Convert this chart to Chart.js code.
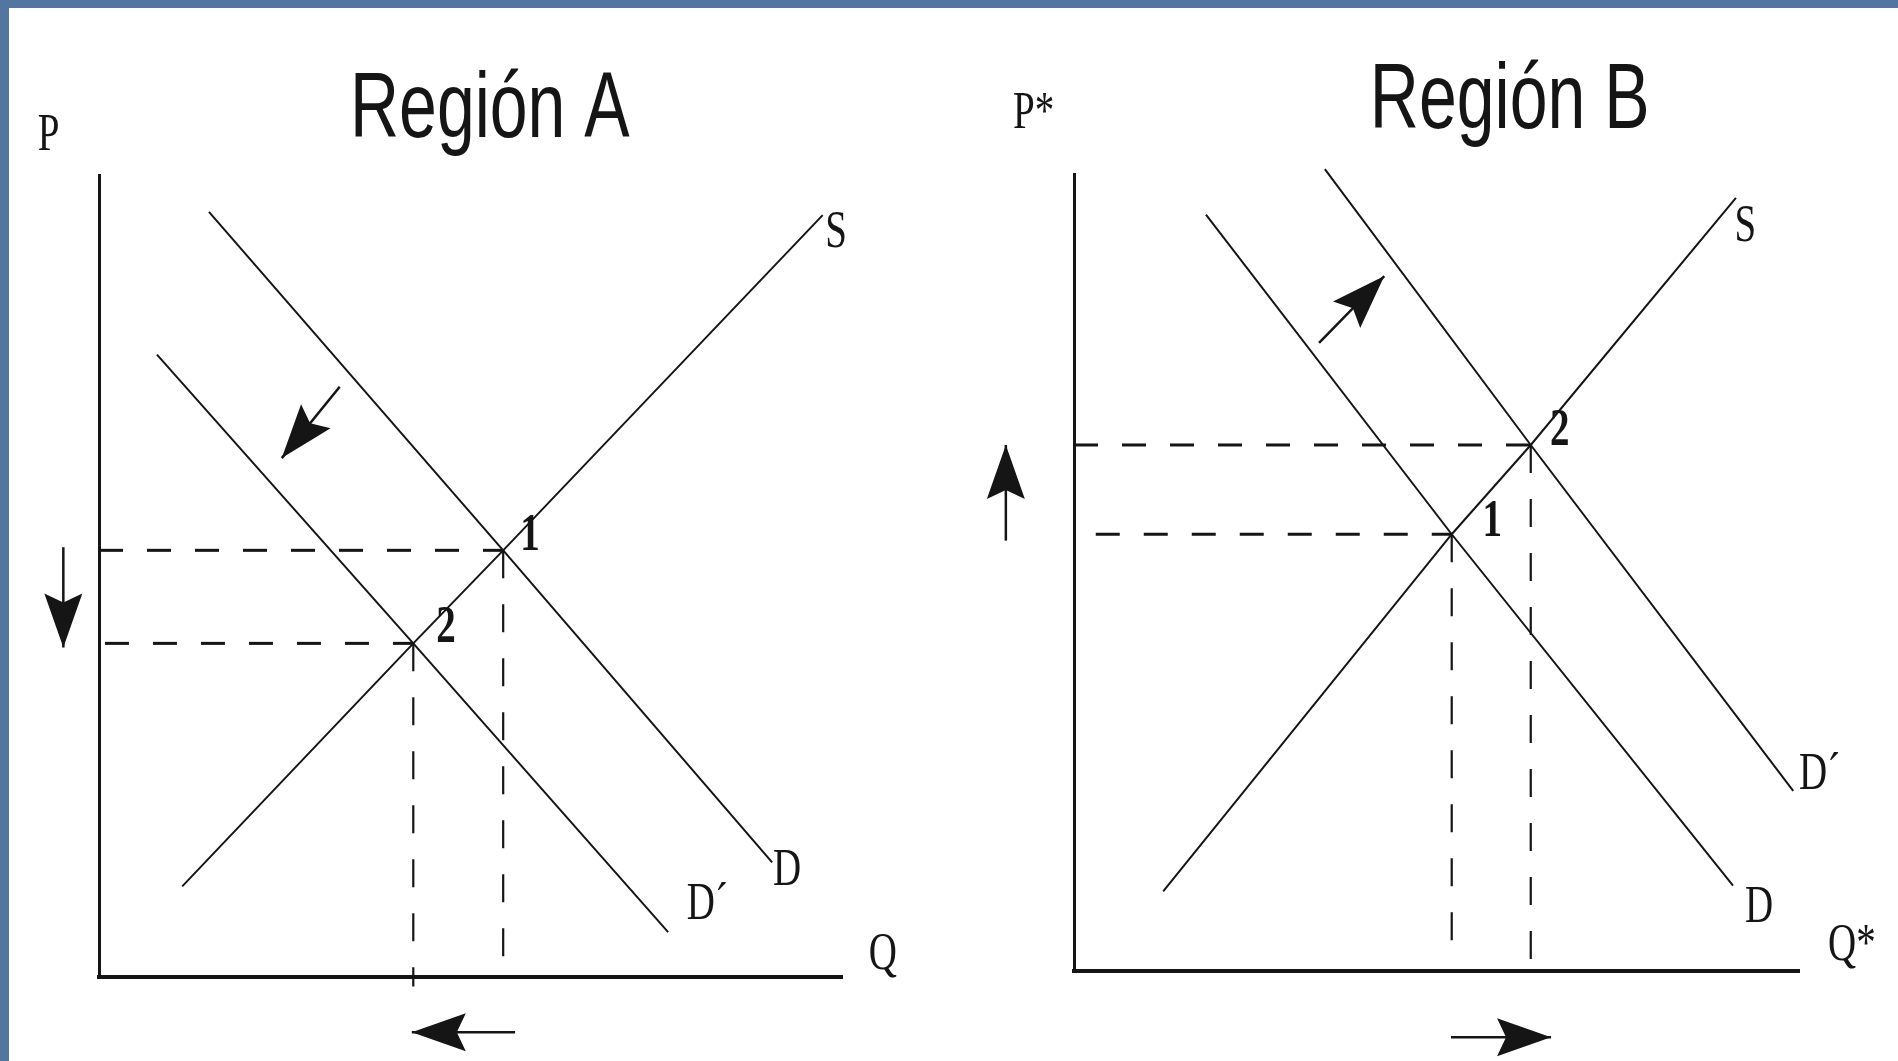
<!DOCTYPE html>
<html>
<head>
<meta charset="utf-8">
<script src="https://cdn.jsdelivr.net/npm/chart.js@4.4.1/dist/chart.umd.min.js"></script>
<style>
  html, body { margin: 0; padding: 0; width: 1898px; height: 1061px; overflow: hidden; background: #52769f; }
  #panel { position: absolute; left: 9px; top: 8px; right: 0; bottom: 0; background: #fff; }
  canvas { position: absolute; top: 0; }
  #chartA { left: 0; }
  #chartB { left: 949px; }
</style>
</head>
<body>
<div id="panel"></div>
<canvas id="chartA" width="949" height="1061"></canvas>
<canvas id="chartB" width="949" height="1061"></canvas>
<script>
// values are [Q, P] on a 0..10 grid for each panel

// Región A
const supplyA = [[1.12, 1.13], [4.23, 4.16], [5.44, 5.32], [9.74, 9.50]];
const demandA = [[1.48, 9.54], [5.44, 5.32], [9.06, 1.43]];
const demandNewA = [[0.78, 7.76], [4.23, 4.16], [7.66, 0.56]];
const guidesA = [
    [[0, 5.32], [5.44, 5.32]],
    [[0.08, 4.16], [4.23, 4.16]],
    [[4.23, 4.16], [4.23, -0.12]],
    [[5.44, 5.32], [5.44, 0.24]]
];
const arrowsA = [
    [[3.24, 7.36], [2.46, 6.47]],
    [[-0.48, 5.36], [-0.48, 4.11]],
    [[5.60, -0.69], [4.21, -0.69]]
];

// Región B
const supplyB = [[1.23, 1.00], [5.21, 5.48], [6.30, 6.60], [9.13, 9.70]];
const demandB = [[1.82, 9.49], [5.21, 5.48], [9.09, 1.07]];
const demandNewB = [[3.46, 10.06], [6.30, 6.60], [9.92, 2.26]];
const guidesB = [
    [[0, 6.60], [6.30, 6.60]],
    [[0.30, 5.48], [5.21, 5.48]],
    [[5.21, 5.48], [5.21, 0.29]],
    [[6.30, 6.60], [6.30, -0.05]]
];
const arrowsB = [
    [[3.38, 7.88], [4.28, 8.72]],
    [[-0.94, 5.40], [-0.94, 6.60]],
    [[5.20, -0.83], [6.58, -0.83]]
];

const INK = '#151515';
const SERIF = "39px 'Liberation Serif'";
const SERIF_BOLD = "bold 39px 'Liberation Serif'";
const TITLE = "68px 'Liberation Sans'";

const toPoints = arr => arr.map(([x, y]) => ({ x: x, y: y }));

function lineSet(points, width, dash) {
    return {
        data: toPoints(points),
        showLine: true,
        borderColor: INK,
        borderWidth: width,
        borderDash: dash || [],
        pointRadius: 0,
        tension: 0,
        clip: false
    };
}

// draws text squeezed like the original scan (tall, narrow letters)
const textPlugin = {
    id: 'labels',
    afterDatasetsDraw(chart, args, opts) {
        const ctx = chart.ctx;
        const xs = chart.scales.x, ys = chart.scales.y;
        ctx.save();
        ctx.fillStyle = INK;
        ctx.textBaseline = 'alphabetic';
        opts.items.forEach(function (it) {
            ctx.save();
            ctx.translate(xs.getPixelForValue(it.q), ys.getPixelForValue(it.p));
            ctx.scale(1, it.stretch || 1.35);
            ctx.font = it.font || SERIF;
            ctx.textAlign = it.align || 'center';
            ctx.fillText(it.text, 0, 0);
            ctx.restore();
        });
        ctx.restore();
    }
};

const arrowPlugin = {
    id: 'arrowHeads',
    afterDatasetsDraw(chart) {
        const ctx = chart.ctx;
        chart.data.datasets.forEach(function (ds, i) {
            if (!ds.arrow) return;
            const pts = chart.getDatasetMeta(i).data;
            const a = pts[0], b = pts[pts.length - 1];
            let ux = b.x - a.x, uy = b.y - a.y;
            const len = Math.hypot(ux, uy);
            ux /= len; uy /= len;
            const nx = -uy, ny = ux;
            const L = 54, W = 19, notch = 9;
            ctx.save();
            ctx.fillStyle = INK;
            ctx.beginPath();
            ctx.moveTo(b.x, b.y);
            ctx.lineTo(b.x - ux * L + nx * W, b.y - uy * L + ny * W);
            ctx.lineTo(b.x - ux * (L - notch), b.y - uy * (L - notch));
            ctx.lineTo(b.x - ux * L - nx * W, b.y - uy * L - ny * W);
            ctx.closePath();
            ctx.fill();
            ctx.restore();
        });
    }
};

function makeChart(id, spec) {
    const datasets = [
        lineSet(spec.supply, 2),
        lineSet(spec.demand, 2),
        lineSet(spec.demandNew, 2)
    ];
    spec.guides.forEach(function (g, i) {
        datasets.push(i < 2 ? lineSet(g, 3, [24, 24]) : lineSet(g, 2.2, [28, 26]));
    });
    spec.arrows.forEach(function (a) {
        const ds = lineSet(a, 2.5);
        ds.arrow = true;
        datasets.push(ds);
    });

    return new Chart(document.getElementById(id), {
        type: 'scatter',
        data: { datasets: datasets },
        options: {
            responsive: false,
            animation: false,
            events: [],
            layout: { padding: spec.padding },
            scales: {
                x: {
                    type: 'linear', min: 0, max: 10,
                    ticks: { display: false },
                    grid: { display: false, drawTicks: false },
                    border: { display: true, color: INK, width: 4 }
                },
                y: {
                    type: 'linear', min: 0, max: 10,
                    ticks: { display: false },
                    grid: { display: false, drawTicks: false },
                    border: { display: true, color: INK, width: 3 }
                }
            },
            plugins: {
                legend: { display: false },
                tooltip: { enabled: false },
                labels: { items: spec.labels }
            }
        },
        plugins: [textPlugin, arrowPlugin]
    });
}

makeChart('chartA', {
    supply: supplyA, demand: demandA, demandNew: demandNewA,
    guides: guidesA, arrows: arrowsA,
    padding: { left: 99, right: 107, top: 175, bottom: 84 },
    labels: [
        { text: 'Región A', q: 5.26, p: 10.47, font: TITLE, stretch: 1.37 },
        { text: 'P', q: -0.68, p: 10.31 },
        { text: 'Q', q: 10.55, p: 0.10 },
        { text: 'S', q: 9.92, p: 9.10 },
        { text: 'D', q: 9.26, p: 1.15 },
        { text: 'D´', q: 7.91, p: 0.72, align: 'left' },
        { text: '1', q: 5.80, p: 5.32, font: SERIF_BOLD },
        { text: '2', q: 4.67, p: 4.18, font: SERIF_BOLD }
    ]
});

makeChart('chartB', {
    supply: supplyB, demand: demandB, demandNew: demandNewB,
    guides: guidesB, arrows: arrowsB,
    padding: { left: 125, right: 99, top: 174, bottom: 90 },
    labels: [
        { text: 'Región B', q: 6.01, p: 10.58, font: TITLE, stretch: 1.37 },
        { text: 'P*', q: -0.84, p: 10.58, align: 'left' },
        { text: 'Q*', q: 10.40, p: 0.14, align: 'left' },
        { text: 'S', q: 9.26, p: 9.16 },
        { text: 'D', q: 9.45, p: 0.61 },
        { text: 'D´', q: 10.0, p: 2.28, align: 'left' },
        { text: '1', q: 5.77, p: 5.46, font: SERIF_BOLD },
        { text: '2', q: 6.70, p: 6.60, font: SERIF_BOLD }
    ]
});
</script>
</body>
</html>
